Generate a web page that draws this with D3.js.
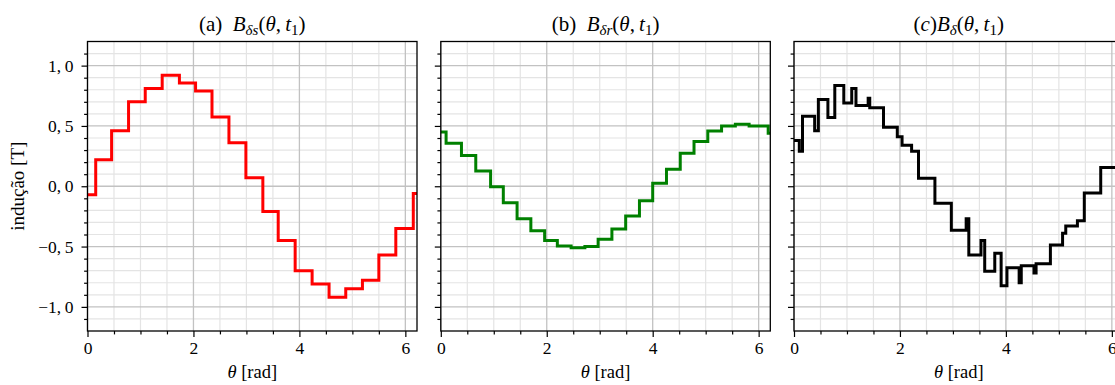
<!DOCTYPE html>
<html>
<head>
<meta charset="utf-8">
<script src="https://cdn.jsdelivr.net/npm/d3@7"></script>
<style>
  body { margin: 0; background: #fff; }
  svg { display: block; }
  text { font-family: "Liberation Serif", "Times New Roman", serif; fill: #000; }
</style>
</head>
<body>
<svg id="chart" width="1115" height="385"></svg>
<script>
// Air-gap flux density at t1 along the bore angle: each series is a
// staircase given by the angle where a level starts and the level (T).

// (a) stator contribution
const thetaStator = [0, 0.155, 0.455, 0.775, 1.09, 1.41, 1.735, 2.04, 2.35, 2.67, 2.99,
                     3.31, 3.60, 3.92, 4.24, 4.56, 4.875, 5.19, 5.50, 5.82, 6.15];
const bStator     = [-0.07, 0.22, 0.46, 0.70, 0.81, 0.92, 0.855, 0.79, 0.575, 0.36, 0.07,
                     -0.21, -0.45, -0.70, -0.81, -0.92, -0.85, -0.78, -0.57, -0.35, -0.06];

// (b) rotor contribution
const thetaRotor = [0, 0.10, 0.39, 0.66, 0.94, 1.18, 1.44, 1.70, 1.96, 2.20, 2.46, 2.72,
                    2.97, 3.23, 3.49, 3.75, 4.00, 4.26, 4.52, 4.78, 5.04, 5.30, 5.56, 5.82, 6.18];
const bRotor     = [0.45, 0.357, 0.255, 0.127, -0.005, -0.136, -0.27, -0.368, -0.45, -0.495, -0.51, -0.50,
                    -0.44, -0.354, -0.246, -0.12, 0.025, 0.141, 0.274, 0.37, 0.458, 0.50, 0.515, 0.50, 0.44];

// (c) resulting air-gap field
const thetaTotal = [0, 0.10, 0.16, 0.39, 0.46, 0.64, 0.77, 0.94, 1.09, 1.17, 1.40, 1.43,
                    1.69, 1.95, 2.04, 2.22, 2.35, 2.66, 2.97, 3.25, 3.30, 3.53, 3.60, 3.79,
                    3.91, 4.02, 4.25, 4.29, 4.53, 4.57, 4.84, 5.07, 5.13, 5.35, 5.48, 5.79, 6.16];
const bTotal     = [0.38, 0.29, 0.58, 0.46, 0.72, 0.57, 0.835, 0.69, 0.81, 0.67, 0.73, 0.65,
                    0.49, 0.41, 0.34, 0.29, 0.066, -0.14, -0.365, -0.27, -0.57, -0.45, -0.705, -0.556,
                    -0.825, -0.675, -0.80, -0.66, -0.72, -0.643, -0.487, -0.39, -0.33, -0.285, -0.056, 0.155, 0.38];

const thetaEnd = 6.22;

const xTicks = [0, 2, 4, 6];
const xTickLabels = ["0", "2", "4", "6"];
const xMinorTicks = [0.5, 1, 1.5, 2.5, 3, 3.5, 4.5, 5, 5.5];
const yTicks = [-1, -0.5, 0, 0.5, 1];
const yTickLabels = ["\u22121,\u20090", "\u22120,\u20095", "0,\u20090", "0,\u20095", "1,\u20090"];
const yMinorTicks = [-1.1, -0.9, -0.8, -0.7, -0.6, -0.4, -0.3, -0.2, -0.1,
                     0.1, 0.2, 0.3, 0.4, 0.6, 0.7, 0.8, 0.9, 1.1];

const xLabel = "\u03b8";
const xLabelUnit = " [rad]";
const yLabel = "indução [T]";

const svg = d3.select("#chart");

const plotTop = 41.5, plotBottom = 331;
const panelWidth = 329.5;
const panelLefts = [87.5, 440.8, 794];

const y = d3.scaleLinear().domain([-1.2, 1.2]).range([plotBottom, plotTop]);

const panels = [
  { theta: thetaStator, b: bStator, color: "#ff0000", title: "a" },
  { theta: thetaRotor,  b: bRotor,  color: "#008000", title: "b" },
  { theta: thetaTotal,  b: bTotal,  color: "#000000", title: "c" }
];

function stepPoints(theta, b) {
  const pts = theta.map((t, i) => [t, b[i]]);
  pts.push([thetaEnd, b[b.length - 1]]);
  return pts;
}

function drawTitle(g, cx, which) {
  const t = g.append("text").attr("x", cx).attr("y", 31)
    .attr("text-anchor", "middle").style("font-size", "21px");
  if (which === "c") {
    t.append("tspan").text("(");
    t.append("tspan").style("font-style", "italic").text("c");
    t.append("tspan").text(")");
  } else {
    t.append("tspan").text("(" + which + ")\u2002");
  }
  t.append("tspan").style("font-style", "italic").text("B");
  t.append("tspan").attr("dy", 4).style("font-size", "15px").style("font-style", "italic")
    .text(which === "a" ? "\u03b4s" : which === "b" ? "\u03b4r" : "\u03b4");
  t.append("tspan").attr("dy", -4).text("(");
  t.append("tspan").style("font-style", "italic").text("\u03b8");
  t.append("tspan").text(",\u2009");
  t.append("tspan").style("font-style", "italic").text("t");
  t.append("tspan").attr("dy", 4).style("font-size", "15px").text("1");
  t.append("tspan").attr("dy", -4).text(")");
}

panels.forEach((p, idx) => {
  const left = panelLefts[idx];
  const x = d3.scaleLinear().domain([0, thetaEnd]).range([left, left + panelWidth]);
  const g = svg.append("g");

  const clipId = "clip" + idx;
  g.append("clipPath").attr("id", clipId).append("rect")
    .attr("x", left).attr("y", plotTop).attr("width", panelWidth).attr("height", plotBottom - plotTop);

  // minor grid
  const grid = g.append("g");
  grid.selectAll(".ymin").data(yMinorTicks).join("line")
    .attr("x1", left).attr("x2", left + panelWidth)
    .attr("y1", d => y(d)).attr("y2", d => y(d))
    .attr("stroke", "#e4e4e4").attr("stroke-width", 1.2);
  grid.selectAll(".xmin").data(xMinorTicks).join("line")
    .attr("y1", plotTop).attr("y2", plotBottom)
    .attr("x1", d => x(d)).attr("x2", d => x(d))
    .attr("stroke", "#e4e4e4").attr("stroke-width", 1.2);
  // major grid
  grid.selectAll(".ymaj").data(yTicks).join("line")
    .attr("x1", left).attr("x2", left + panelWidth)
    .attr("y1", d => y(d)).attr("y2", d => y(d))
    .attr("stroke", "#c2c2c2").attr("stroke-width", 1.3);
  grid.selectAll(".xmaj").data(xTicks).join("line")
    .attr("y1", plotTop).attr("y2", plotBottom)
    .attr("x1", d => x(d)).attr("x2", d => x(d))
    .attr("stroke", "#c2c2c2").attr("stroke-width", 1.3);

  // field curve
  const line = d3.line().x(d => x(d[0])).y(d => y(d[1])).curve(d3.curveStepAfter);
  g.append("path").attr("clip-path", `url(#${clipId})`)
    .datum(stepPoints(p.theta, p.b))
    .attr("d", line)
    .attr("fill", "none")
    .attr("stroke", p.color)
    .attr("stroke-width", 3)
    .attr("stroke-linejoin", "miter");

  // frame
  g.append("rect").attr("x", left).attr("y", plotTop)
    .attr("width", panelWidth).attr("height", plotBottom - plotTop)
    .attr("fill", "none").attr("stroke", "#000").attr("stroke-width", 1.3);

  // x axis ticks
  const xAxis = d3.axisBottom(x).tickValues(xTicks)
    .tickFormat((d, i) => xTickLabels[i]).tickSizeInner(6).tickSizeOuter(0).tickPadding(5);
  const xa = g.append("g").attr("transform", `translate(0,${plotBottom})`).call(xAxis);
  const xAxisMinor = d3.axisBottom(x).tickValues(xMinorTicks).tickFormat("").tickSizeInner(3.4).tickSizeOuter(0);
  const xm = g.append("g").attr("transform", `translate(0,${plotBottom})`).call(xAxisMinor);

  // y axis ticks
  const yAxis = d3.axisLeft(y).tickValues(yTicks)
    .tickFormat((d, i) => idx === 0 ? yTickLabels[i] : "").tickSizeInner(6).tickSizeOuter(0).tickPadding(8);
  const ya = g.append("g").attr("transform", `translate(${left},0)`).call(yAxis);
  const yAxisMinor = d3.axisLeft(y).tickValues(yMinorTicks).tickFormat("").tickSizeInner(3.4).tickSizeOuter(0);
  const ym = g.append("g").attr("transform", `translate(${left},0)`).call(yAxisMinor);

  [xa, xm, ya, ym].forEach(a => {
    a.select(".domain").remove();
    a.selectAll(".tick line").attr("stroke", "#000").attr("stroke-width", 1.2);
    a.selectAll("text").style("font-family", '"Liberation Serif", "Times New Roman", serif')
      .style("font-size", "17.5px").attr("fill", "#000");
  });
  xa.selectAll(".tick text").attr("dy", "0.71em");

  // x label
  const xl = g.append("text").attr("x", left + panelWidth / 2).attr("y", 378)
    .attr("text-anchor", "middle").style("font-size", "18.5px");
  xl.append("tspan").style("font-style", "italic").text(xLabel);
  xl.append("tspan").text(xLabelUnit);

  drawTitle(g, left + panelWidth / 2, p.title);
});

svg.append("text")
  .attr("transform", `translate(24,${(plotTop + plotBottom) / 2}) rotate(-90)`)
  .attr("text-anchor", "middle")
  .style("font-size", "19px")
  .text(yLabel);
</script>
</body>
</html>
